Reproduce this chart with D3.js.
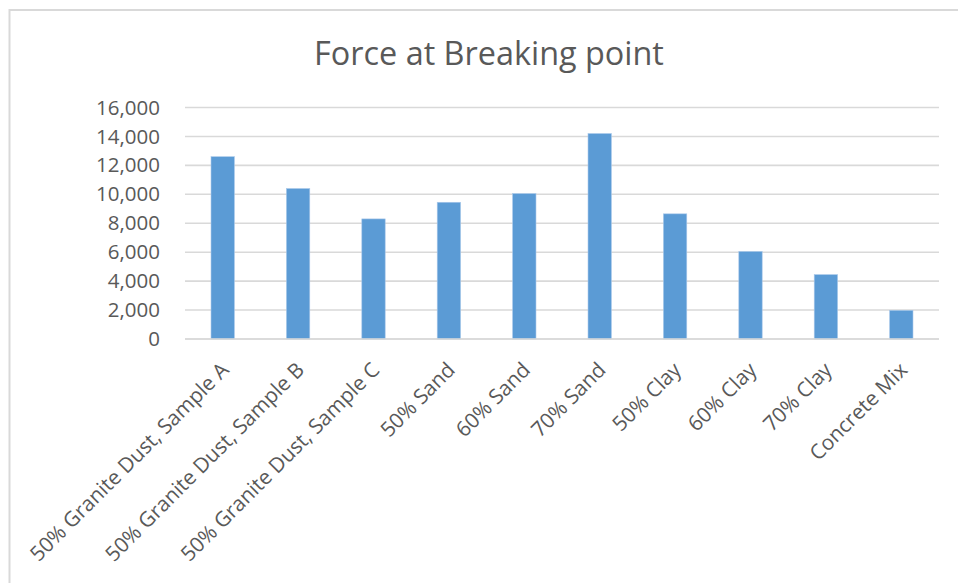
<!DOCTYPE html>
<html>
<head>
<meta charset="utf-8">
<script src="https://cdn.jsdelivr.net/npm/d3@7"></script>
<style>
  body { margin: 0; background: #fff; }
  svg { display: block; font-family: "Open Sans", sans-serif; }
</style>
</head>
<body>
<div class="chart"></div>
<script>
// ____________________________Data__________________________

const categories = [
    "50% Granite Dust, Sample A",
    "50% Granite Dust, Sample B",
    "50% Granite Dust, Sample C",
    "50% Sand",
    "60% Sand",
    "70% Sand",
    "50% Clay",
    "60% Clay",
    "70% Clay",
    "Concrete Mix"
];
const forces = [12600, 10400, 8300, 9450, 10050, 14200, 8650, 6050, 4450, 1980];
const yTicks = [0, 2000, 4000, 6000, 8000, 10000, 12000, 14000, 16000];
const title = "Force at Breaking point";

// ____________________________Chart__________________________

const width = 958;
const height = 583;
const margin = {top: 107.5, right: 19, bottom: 244, left: 185};

const svg = d3.select(".chart")
    .append("svg")
    .attr("width", width)
    .attr("height", height);

// chart frame (runs off the right and bottom of the picture)
svg.append("rect")
    .attr("x", 9.5)
    .attr("y", 10)
    .attr("width", 980)
    .attr("height", 600)
    .attr("fill", "none")
    .attr("stroke", "#d9d9d9")
    .attr("stroke-width", 2);

const xScale = d3.scaleBand()
    .domain(categories)
    .range([margin.left, width - margin.right])
    .paddingInner(0.69)
    .paddingOuter(0.345);

const yScale = d3.scaleLinear()
    .domain([0, 16000])
    .range([height - margin.bottom, margin.top]);

// gridlines
svg.append("g")
    .selectAll("line")
    .data(yTicks)
    .join("line")
        .attr("x1", margin.left)
        .attr("x2", width - margin.right)
        .attr("y1", d => yScale(d))
        .attr("y2", d => yScale(d))
        .attr("stroke", "#d9d9d9")
        .attr("stroke-width", 1.6);

// y axis labels
const yAxis = d3.axisLeft(yScale)
    .tickValues(yTicks)
    .tickFormat(d3.format(","))
    .tickSize(0)
    .tickPadding(25);

svg.append("g")
    .attr("transform", `translate(${margin.left},0)`)
    .call(yAxis)
    .call(g => g.select(".domain").remove())
    .selectAll("text")
        .attr("font-size", "20.5px")
        .attr("font-family", "Open Sans, sans-serif")
        .attr("fill", "#595959");

// bars
svg.append("g")
    .selectAll("rect")
    .data(forces)
    .join("rect")
        .attr("x", (d, i) => xScale(categories[i]))
        .attr("y", d => yScale(d))
        .attr("width", xScale.bandwidth())
        .attr("height", d => yScale(0) - yScale(d))
        .attr("fill", "#5b9bd5")
        .attr("stroke", "#a9c8ea")
        .attr("stroke-width", 0.6);

// x axis baseline
svg.append("line")
    .attr("x1", margin.left)
    .attr("x2", width - margin.right)
    .attr("y1", yScale(0))
    .attr("y2", yScale(0))
    .attr("stroke", "#d9d9d9")
    .attr("stroke-width", 1.6);

// x labels, rotated
svg.append("g")
    .selectAll("text")
    .data(categories)
    .join("text")
        .attr("transform", d => `translate(${xScale(d) + xScale.bandwidth() / 2 - 3},${yScale(0) + 22}) rotate(-45)`)
        .attr("text-anchor", "end")
        .attr("dy", "0.7em")
        .attr("font-size", "20.8px")
        .attr("fill", "#595959")
        .text(d => d);

// title
svg.append("text")
    .attr("x", 489)
    .attr("y", 65)
    .attr("text-anchor", "middle")
    .attr("font-size", "32.4px")
    .attr("fill", "#595959")
    .text(title);
</script>
</body>
</html>
